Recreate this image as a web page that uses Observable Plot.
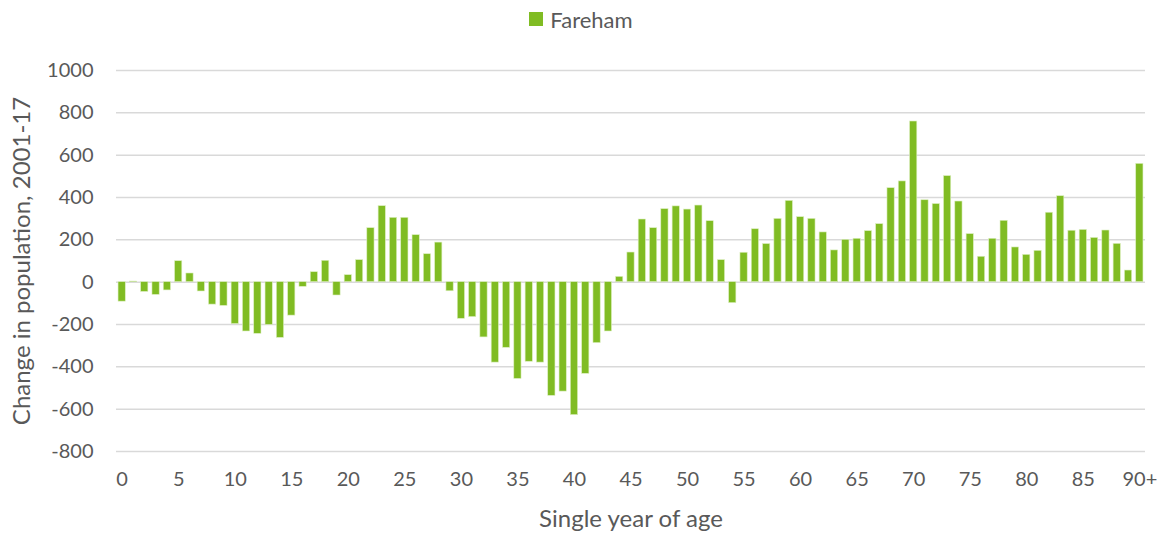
<!DOCTYPE html>
<html>
<head>
<meta charset="utf-8">
<script src="https://cdn.jsdelivr.net/npm/d3@7"></script>
<script src="https://cdn.jsdelivr.net/npm/@observablehq/plot@0.6"></script>
<style>
  html, body { margin: 0; padding: 0; background: #fff; }
  body { width: 1162px; height: 538px; overflow: hidden; font-family: Lato, "Open Sans", sans-serif; }
  #legend { height: 38px; display: flex; align-items: center; justify-content: center; color: #595959; font-size: 22px; }
  #legend .sw { width: 14px; height: 14px; background: #80BC23; margin-right: 7px; }
</style>
</head>
<body>
<div id="legend"><span class="sw"></span><span>Fareham</span></div>
<div id="chart"></div>
<script>
const ages = ["0","1","2","3","4","5","6","7","8","9","10","11","12","13","14","15","16","17","18","19","20","21","22","23","24","25","26","27","28","29","30","31","32","33","34","35","36","37","38","39","40","41","42","43","44","45","46","47","48","49","50","51","52","53","54","55","56","57","58","59","60","61","62","63","64","65","66","67","68","69","70","71","72","73","74","75","76","77","78","79","80","81","82","83","84","85","86","87","88","89","90+"];
const change = [
  -92, 3, -46, -60, -39, 99, 41, -44, -106, -112,
  -198, -233, -244, -202, -263, -158, -22, 47, 101, -63,
  33, 104, 255, 359, 304, 304, 222, 132, 187, -43,
  -173, -165, -261, -380, -310, -457, -376, -380, -537, -517,
  -628, -433, -288, -233, 25, 140, 296, 255, 345, 358,
  343, 362, 288, 104, -99, 139, 250, 180, 299, 384,
  307, 299, 235, 150, 200, 205, 241, 274, 444, 476,
  759, 387, 369, 501, 381, 227, 120, 205, 290, 164,
  129, 148, 328, 406, 243, 247, 209, 244, 181, 55,
  559
];
const xTicks = ["0","5","10","15","20","25","30","35","40","45","50","55","60","65","70","75","80","85","90+"];
const yTicks = [-800,-600,-400,-200,0,200,400,600,800,1000];
const seriesName = "Fareham";
const xTitle = "Single year of age";
const yTitle = "Change in population, 2001-17";

const data = ages.map((a, i) => ({age: a, value: change[i]}));

const chart = Plot.plot({
  width: 1162,
  height: 500,
  marginLeft: 116,
  marginRight: 17,
  marginTop: 32,
  marginBottom: 87,
  style: {fontFamily: "Lato, 'Open Sans', sans-serif", fontSize: "20px", color: "#595959", background: "#fff"},
  x: {domain: ages, paddingInner: 0.36, paddingOuter: 0.18, round: false},
  y: {domain: [-800, 1000]},
  marks: [
    Plot.gridY(yTicks, {stroke: "#d9d9d9", strokeOpacity: 1, strokeWidth: 1.5}),
    Plot.barY(data, {x: "age", y: "value", fill: "#80BC23", stroke: "#dcefc0", strokeWidth: 0.6}),
    Plot.axisX(xTicks, {tickSize: 0, tickPadding: 20, label: null, fill: "#595959", fontSize: 20}),
    Plot.axisY(yTicks, {tickSize: 0, tickPadding: 23, label: null, fill: "#595959", fontSize: 20, tickFormat: d => String(d)}),
    Plot.text([xTitle], {frameAnchor: "bottom", dy: 75, fill: "#595959", fontSize: 24}),
    Plot.text([yTitle], {frameAnchor: "left", textAnchor: "middle", rotate: -90, dx: -94, fill: "#595959", fontSize: 24})
  ]
});
document.getElementById("chart").appendChild(chart);
</script>
</body>
</html>
